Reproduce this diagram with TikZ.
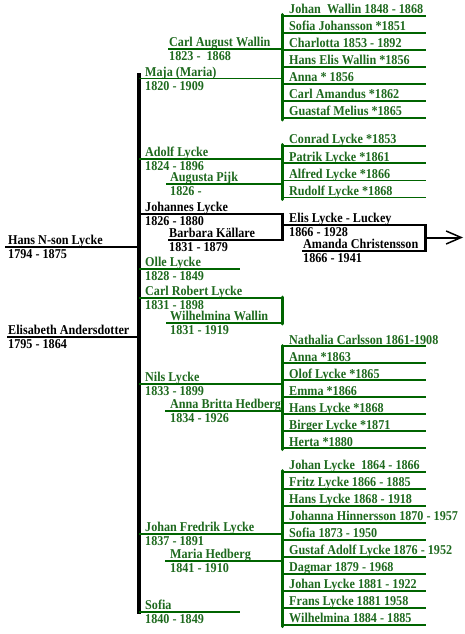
\documentclass[tikz,border=0pt]{standalone}
\usepackage{fontspec}
\setmainfont[FakeStretch=0.9]{Liberation Serif}
\usetikzlibrary{arrows.meta}
\definecolor{gtext}{RGB}{30,105,30}
\definecolor{gline}{RGB}{0,100,0}
\begin{document}
\begin{tikzpicture}[x=1pt,y=-1pt,
  txt/.style={anchor=base west,inner sep=0pt,font=\fontsize{13.5}{14}\selectfont\bfseries},
  gt/.style={txt,text=gtext},
  bt/.style={txt,text=black},
  gh/.style={draw=gline,line width=1.8pt},
  gv/.style={draw=gline,line width=3pt,line cap=round},
  bh/.style={draw=black,line width=2pt},
  bv/.style={draw=black,line width=3pt},
  trunk/.style={draw=black,line width=3.5pt},
]
\useasboundingbox (0,0) rectangle (465,634);

% ---------- parents ----------
\node[bt] (hans) at (8,244.6) {Hans N-son Lycke};
\node[bt] (hansd) at (8,258.5) {1794 - 1875};
\node[bt] (elis) at (8,334.3) {Elisabeth Andersdotter};
\node[bt] (elisd) at (8,348.2) {1795 - 1864};
\coordinate (trT) at (139,73);
\coordinate (trB) at (139,614);
\coordinate (hansL) at (5,247);   \coordinate (hansR) at (139,247);
\coordinate (elisL) at (7,336.7); \coordinate (elisR) at (139,336.7);
\draw[bh] (hansL) -- (hansR);
\draw[bh] (elisL) -- (elisR);
\draw[trunk] (trT) -- (trB);

% ---------- Maja (Maria) ----------
\node[gt] (maja) at (145,76.1) {Maja (Maria)};
\node[gt] (majad) at (145,90) {1820 - 1909};
\node[gt] (carlaw) at (169,46.3) {Carl August Wallin};
\node[gt] (carlawd) at (169,60.2) {1823 -\ \ 1868};
\coordinate (majaL) at (139,78.5); \coordinate (majaR) at (282,78.5);
\coordinate (carlawL) at (168,48.7); \coordinate (carlawR) at (282,48.7);
\coordinate (majaVT) at (282,14.5); \coordinate (majaVB) at (282,120);
\draw[gh] (majaL) -- (majaR);
\draw[gh] (carlawL) -- (carlawR);
\draw[gv] (majaVT) -- (majaVB);
\foreach \t [count=\i from 0] in {Johan\ \ Wallin 1848 - 1868, Sofia Johansson *1851, Charlotta 1853 - 1892, Hans Elis Wallin *1856, Anna * 1856, Carl Amandus *1862, Guastaf Melius *1865}{
  \node[gt] (mk\i) at (289,{13.9+17*\i}) {\t};
  \coordinate (mkL\i) at (282,{16.2+17*\i});
  \coordinate (mkR\i) at (426,{16.2+17*\i});
  \draw[gh] (mkL\i) -- (mkR\i);
}

% ---------- Adolf Lycke ----------
\node[gt] (adolf) at (145,156.3) {Adolf Lycke};
\node[gt] (adolfd) at (145,170.2) {1824 - 1896};
\node[gt] (aug) at (170,181.9) {Augusta Pijk};
\node[gt] (augd) at (170,195.8) {1826 -};
\coordinate (adolfL) at (139,158.7); \coordinate (adolfR) at (282,158.7);
\coordinate (augL) at (166,184.3); \coordinate (augR) at (282,184.3);
\coordinate (adolfVT) at (282,144.5); \coordinate (adolfVB) at (282,199.5);
\draw[gh] (adolfL) -- (adolfR);
\draw[gh] (augL) -- (augR);
\draw[gv] (adolfVT) -- (adolfVB);
\foreach \t [count=\i from 0] in {Conrad Lycke *1853, Patrik Lycke *1861, Alfred Lycke *1866, Rudolf Lycke *1868}{
  \node[gt] (ak\i) at (289,{143.9+17.1*\i}) {\t};
  \coordinate (akL\i) at (282,{146.2+17.1*\i});
  \coordinate (akR\i) at (426,{146.2+17.1*\i});
  \draw[gh] (akL\i) -- (akR\i);
}

% ---------- Johannes Lycke ----------
\node[bt] (joh) at (145,211.3) {Johannes Lycke};
\node[bt] (johd) at (145,225.2) {1826 - 1880};
\node[bt] (barb) at (169,237.1) {Barbara Källare};
\node[bt] (barbd) at (169,251) {1831 - 1879};
\coordinate (johL) at (139,213.7); \coordinate (johR) at (282,213.7);
\coordinate (barbL) at (168,239.5); \coordinate (barbR) at (282,239.5);
\coordinate (johVT) at (282,212.7); \coordinate (johVB) at (282,240.5);
\draw[bh] (johL) -- (johR);
\draw[bh] (barbL) -- (barbR);
\draw[bv] (johVT) -- (johVB);
\node[bt] (elisl) at (289,222.6) {Elis Lycke - Luckey};
\node[bt] (elisld) at (289,236.5) {1866 - 1928};
\node[bt] (aman) at (303,248.6) {Amanda Christensson};
\node[bt] (amand) at (303,262.5) {1866 - 1941};
\coordinate (elislL) at (282,225); \coordinate (elislR) at (425,225);
\coordinate (amanL) at (302,251); \coordinate (amanR) at (425,251);
\coordinate (elVT) at (425,224); \coordinate (elVB) at (425,252);
\coordinate (arS) at (425,237.5); \coordinate (arE) at (463,237.5);
\draw[bh] (elislL) -- (elislR);
\draw[bh] (amanL) -- (amanR);
\draw[bv] (elVT) -- (elVB);
\draw[bh,-{Straight Barb[length=15pt,width=13pt,line width=1.5pt]}] (arS) -- (arE);

% ---------- Olle Lycke ----------
\node[gt] (olle) at (145,266.3) {Olle Lycke};
\node[gt] (olled) at (145,280.2) {1828 - 1849};
\coordinate (olleL) at (139,268.7); \coordinate (olleR) at (240,268.7);
\draw[gh] (olleL) -- (olleR);

% ---------- Carl Robert Lycke ----------
\node[gt] (crl) at (145,295.3) {Carl Robert Lycke};
\node[gt] (crld) at (145,309.2) {1831 - 1898};
\node[gt] (wil) at (170,320.9) {Wilhelmina Wallin};
\node[gt] (wild) at (170,334.8) {1831 - 1919};
\coordinate (crlL) at (139,297.7); \coordinate (crlR) at (282,297.7);
\coordinate (wilL) at (166,323.3); \coordinate (wilR) at (282,323.3);
\coordinate (crlVT) at (282,297); \coordinate (crlVB) at (282,324);
\draw[gh] (crlL) -- (crlR);
\draw[gh] (wilL) -- (wilR);
\draw[gv] (crlVT) -- (crlVB);

% ---------- Nils Lycke ----------
\node[gt] (nils) at (145,381.9) {Nils Lycke};
\node[gt] (nilsd) at (145,395.8) {1833 - 1899};
\node[gt] (abh) at (170,408.3) {Anna Britta Hedberg};
\node[gt] (abhd) at (170,422.2) {1834 - 1926};
\coordinate (nilsL) at (139,384.3); \coordinate (nilsR) at (282,384.3);
\coordinate (abhL) at (165,410.7); \coordinate (abhR) at (282,410.7);
\coordinate (nilsVT) at (282,345.5); \coordinate (nilsVB) at (282,449.5);
\draw[gh] (nilsL) -- (nilsR);
\draw[gh] (abhL) -- (abhR);
\draw[gv] (nilsVT) -- (nilsVB);
\foreach \t [count=\i from 0] in {Nathalia Carlsson 1861-1908, Anna *1863, Olof Lycke *1865, Emma *1866, Hans Lycke *1868, Birger Lycke *1871, Herta *1880}{
  \node[gt] (nk\i) at (289,{344+17*\i}) {\t};
  \coordinate (nkL\i) at (282,{346.3+17*\i});
  \coordinate (nkR\i) at (426,{346.3+17*\i});
  \draw[gh] (nkL\i) -- (nkR\i);
}

% ---------- Johan Fredrik Lycke ----------
\node[gt] (jfl) at (145,531.9) {Johan Fredrik Lycke};
\node[gt] (jfld) at (145,545.8) {1837 - 1891};
\node[gt] (mh) at (170,558.3) {Maria Hedberg};
\node[gt] (mhd) at (170,572.2) {1841 - 1910};
\coordinate (jflL) at (139,534.3); \coordinate (jflR) at (282,534.3);
\coordinate (mhL) at (165,560.7); \coordinate (mhR) at (282,560.7);
\coordinate (jflVT) at (282,470.5); \coordinate (jflVB) at (282,626.5);
\draw[gh] (jflL) -- (jflR);
\draw[gh] (mhL) -- (mhR);
\draw[gv] (jflVT) -- (jflVB);
\foreach \t [count=\i from 0] in {Johan Lycke\ \ 1864 - 1866, Fritz Lycke 1866 - 1885, Hans Lycke 1868 - 1918, Johanna Hinnersson 1870 - 1957, Sofia 1873 - 1950, Gustaf Adolf Lycke 1876 - 1952, Dagmar 1879 - 1968, Johan Lycke 1881 - 1922, Frans Lycke 1881 1958, Wilhelmina 1884 - 1885}{
  \node[gt] (jk\i) at (289,{469.9+17*\i}) {\t};
  \coordinate (jkL\i) at (282,{472.2+17*\i});
  \coordinate (jkR\i) at (426,{472.2+17*\i});
  \draw[gh] (jkL\i) -- (jkR\i);
}

% ---------- Sofia ----------
\node[gt] (sofia) at (145,609.9) {Sofia};
\node[gt] (sofiad) at (145,623.8) {1840 - 1849};
\coordinate (sofiaL) at (139,612.3); \coordinate (sofiaR) at (240,612.3);
\draw[gh] (sofiaL) -- (sofiaR);
\end{tikzpicture}
\end{document}
